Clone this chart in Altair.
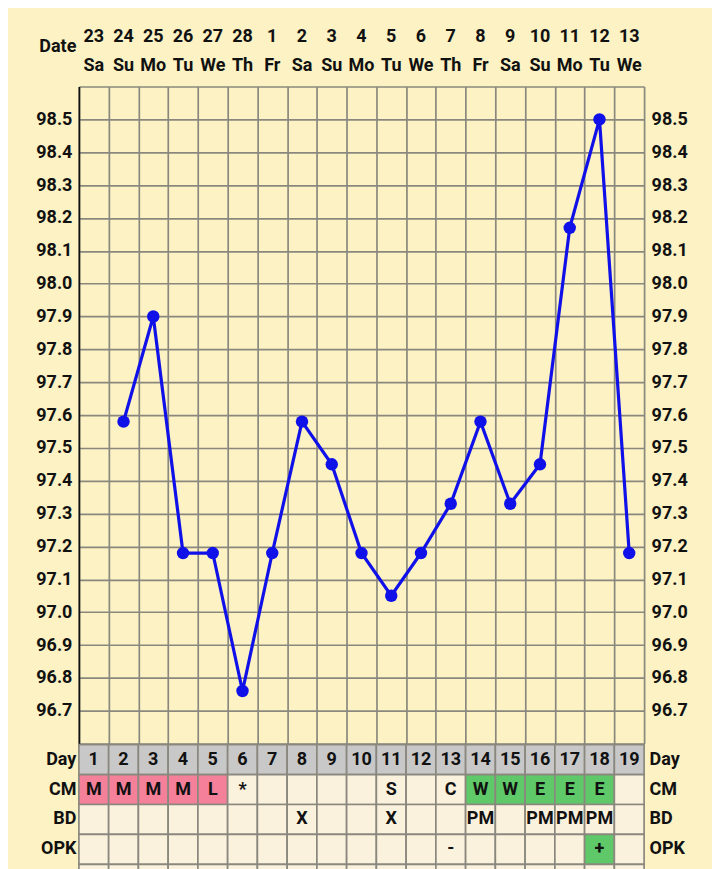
import altair as alt
import pandas as pd

# ---------------- data ----------------
days = list(range(1, 20))
dates = [23, 24, 25, 26, 27, 28, 1, 2, 3, 4, 5, 6, 7, 8, 9, 10, 11, 12, 13]
dows = ["Sa", "Su", "Mo", "Tu", "We", "Th", "Fr", "Sa", "Su", "Mo",
        "Tu", "We", "Th", "Fr", "Sa", "Su", "Mo", "Tu", "We"]

temp_days = list(range(2, 20))
temps = [97.58, 97.90, 97.18, 97.18, 96.76, 97.18, 97.58, 97.45, 97.18,
         97.05, 97.18, 97.33, 97.58, 97.33, 97.45, 98.17, 98.50, 97.18]

row_names = ["Day", "CM", "BD", "OPK", "R5"]
cm_vals = ["M", "M", "M", "M", "L", "*", "", "", "", "", "S", "", "C",
           "W", "W", "E", "E", "E", ""]
bd_vals = ["", "", "", "", "", "", "", "X", "", "", "X", "", "",
           "PM", "", "PM", "PM", "PM", ""]
opk_vals = ["", "", "", "", "", "", "", "", "", "", "", "", "-",
            "", "", "", "", "+", ""]

y_ticks = [96.6, 96.7, 96.8, 96.9, 97.0, 97.1, 97.2, 97.3, 97.4, 97.5, 97.6,
           97.7, 97.8, 97.9, 98.0, 98.1, 98.2, 98.3, 98.4, 98.5, 98.6]
x_grid = [0.5 + i for i in range(20)]

# ---------------- style ----------------
FONT = "Roboto"
FS = 18
BG = "#FCF2C4"
GRID = "#8A887E"
BLUE = "#1010E8"
W = 566
EXT = 48

xscale = alt.Scale(domain=[0.5, 19.5], nice=False, zero=False)

# ---------------- header ----------------
header_df = pd.DataFrame({
    "day": days + days,
    "row": ["num"] * 19 + ["dow"] * 19,
    "text": [str(d) for d in dates] + dows,
})

header = alt.Chart(header_df).mark_text(
    font=FONT, fontSize=FS, fontWeight="bold", color="#111111", baseline="middle"
).encode(
    x=alt.X("day:Q", scale=xscale, axis=None),
    y=alt.Y("row:N",
            scale=alt.Scale(type="point", domain=["num", "dow"], range=[28, 57], padding=0),
            axis=alt.Axis(title="Date", labels=False, ticks=False, domain=False, grid=False,
                          minExtent=EXT, maxExtent=EXT, titleAngle=0, titleAlign="right",
                          titleBaseline="middle", titleX=-3, titleY=38, titleFont=FONT,
                          titleFontSize=FS, titleFontWeight="bold", titleColor="#111111")),
    text="text:N",
).properties(width=W, height=78)

# ---------------- temperature panel ----------------
temp_df = pd.DataFrame({"day": temp_days, "temp": temps})

label_expr = "(datum.value < 96.65 || datum.value > 98.55) ? '' : format(datum.value, '.1f')"
x_axis = alt.Axis(values=x_grid, grid=True, gridColor=GRID, gridWidth=1.7, labels=False,
                  ticks=False, domain=False, title=None, minExtent=0, maxExtent=0)
yscale = alt.Scale(domain=[96.6, 98.6], nice=False, zero=False)

line = alt.Chart(temp_df).mark_line(color=BLUE, strokeWidth=3.2).encode(
    x=alt.X("day:Q", scale=xscale, axis=x_axis),
    y=alt.Y("temp:Q", scale=yscale,
            axis=alt.Axis(values=y_ticks, grid=True, gridColor=GRID, gridWidth=1.7,
                          labelExpr=label_expr, ticks=False, domain=True, domainColor="#111111",
                          domainWidth=1.7, labelPadding=7, title=None, orient="left",
                          minExtent=EXT, maxExtent=EXT)),
)

pts = alt.Chart(temp_df).mark_circle(color=BLUE, size=155, opacity=1).encode(
    x=alt.X("day:Q", scale=xscale, axis=x_axis),
    y=alt.Y("temp:Q", scale=yscale,
            axis=alt.Axis(values=y_ticks, grid=False, labelExpr=label_expr, ticks=False,
                          domain=False, labelPadding=7, title=None, orient="right")),
)

temp_chart = alt.layer(line, pts).resolve_axis(y="independent").properties(width=W, height=658)

# ---------------- table ----------------
recs = []
for i, d in enumerate(days):
    recs.append({"day": d, "row": "Day", "text": str(d), "fill": "gray"})
    c = cm_vals[i]
    cf = "pink" if c in ("M", "L") else ("green" if c in ("W", "E") else "plain")
    recs.append({"day": d, "row": "CM", "text": c, "fill": cf})
    recs.append({"day": d, "row": "BD", "text": bd_vals[i], "fill": "plain"})
    o = opk_vals[i]
    recs.append({"day": d, "row": "OPK", "text": o, "fill": "green" if o == "+" else "plain"})
    recs.append({"day": d, "row": "R5", "text": "", "fill": "plain"})
table_df = pd.DataFrame(recs)

yrow = alt.Scale(domain=row_names, paddingInner=0, paddingOuter=0)
row_label = "datum.value == 'R5' ? '' : datum.value"

cells = alt.Chart(table_df).mark_rect(stroke=GRID, strokeWidth=1.7).transform_calculate(
    x0="datum.day - 0.5", x1="datum.day + 0.5"
).encode(
    x=alt.X("x0:Q", scale=xscale, axis=None),
    x2="x1:Q",
    y=alt.Y("row:N", scale=yrow,
            axis=alt.Axis(orient="left", labelExpr=row_label, ticks=False, domain=False,
                          labelPadding=3, title=None, minExtent=EXT, maxExtent=EXT)),
    fill=alt.Fill("fill:N", legend=None,
                  scale=alt.Scale(domain=["gray", "plain", "pink", "green"],
                                  range=["#C8C8C8", "#FBF2DE", "#F5809A", "#5FC869"])),
)

cell_text = alt.Chart(table_df).mark_text(
    font=FONT, fontSize=FS, fontWeight="bold", color="#111111", baseline="middle"
).encode(
    x=alt.X("day:Q", scale=xscale, axis=None),
    y=alt.Y("row:N", scale=yrow,
            axis=alt.Axis(orient="right", labelExpr=row_label, ticks=False, domain=False,
                          labelPadding=5, title=None)),
    text="text:N",
)

table = alt.layer(cells, cell_text).resolve_axis(y="independent").properties(width=W, height=150)

# ---------------- compose ----------------
chart = alt.vconcat(header, temp_chart, table, spacing=0).properties(
    background=BG,
    padding={"left": 23, "top": 0, "right": 24, "bottom": 0},
).configure_view(stroke=None).configure_axis(
    labelFont=FONT, labelFontSize=FS, labelFontWeight="bold", labelColor="#111111",
    titleFont=FONT,
)

chart.save("out.html", embed_options={"renderer": "svg", "actions": False})
